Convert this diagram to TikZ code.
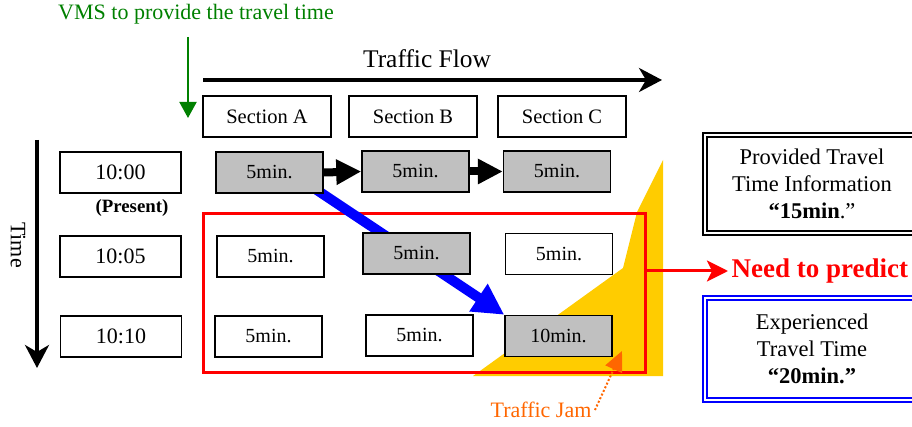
\documentclass[tikz,border=0pt]{standalone}
\usepackage{fontspec}
\setmainfont{Liberation Serif}
\usetikzlibrary{arrows.meta,calc,backgrounds}

\definecolor{vmsgreen}{RGB}{0,128,0}
\definecolor{jamyellow}{RGB}{255,204,0}
\definecolor{jamorange}{RGB}{255,102,0}
\definecolor{cellgray}{RGB}{192,192,192}

\newcommand{\setsize}[2]{\fontsize{#1}{#2}\selectfont}

\begin{document}
\begin{tikzpicture}[x=1pt, y=-1pt,
    secbox/.style={draw, line width=1.5pt, fill=white, minimum width=128pt, minimum height=41pt, font=\setsize{20.5}{22}},
    timebox/.style={draw, line width=1.5pt, fill=white, minimum width=121pt, minimum height=41pt, font=\setsize{22}{24}},
    cell/.style={draw, line width=1.5pt, fill=white, minimum width=107pt, minimum height=41pt, font=\setsize{20}{22}},
    jamcell/.style={cell, fill=cellgray},
    infobox/.style={line width=2.6pt, fill=white, minimum width=218pt, align=center, font=\setsize{22.5}{27}},
    innerline/.style={line width=1.6pt},
    bigarrow/.style={line width=3.5pt, -{Stealth[length=23pt,width=24pt,inset=7pt]}},
    steparrow/.style={line width=8pt, -{Triangle[length=25pt,width=24pt]}},
    shiftarrow/.style={blue, line width=10pt, -{Triangle[length=31pt,width=31pt]}},
    predarrow/.style={red, line width=3pt, -{Stealth[length=21pt,width=21pt,inset=5pt]}}]

    \clip (0,0) rectangle (912,427);

    % labels on top
    \node [vmsgreen, font=\setsize{22}{24}] (vms) at (196,14) {VMS to provide the travel time};
    \coordinate (vmstop) at (188,37);
    \coordinate (vmsend) at (188,118);
    \draw [vmsgreen, line width=2pt, -{Triangle[length=16pt,width=17pt]}] (vmstop) -- (vmsend);

    \node [font=\setsize{25.4}{27}] (flow) at (427,59) {Traffic Flow};
    \coordinate (flowstart) at (203,80);
    \coordinate (flowend) at (662,80);
    \draw [bigarrow] (flowstart) -- (flowend);

    \node [rotate=-90, font=\setsize{22}{24}] (time) at (18,245) {Time};
    \coordinate (timestart) at (37,140);
    \coordinate (timeend) at (37,368);
    \draw [bigarrow] (timestart) -- (timeend);

    % sections
    \node [secbox] (secA) at (267,116.5) {Section A};
    \node [secbox] (secB) at (413,116.5) {Section B};
    \node [secbox] (secC) at (562,116.5) {Section C};

    % times
    \node [timebox] (t1) at (120.5,172.5) {10:00};
    \node [timebox] (t2) at (120.5,256.5) {10:05};
    \node [timebox] (t3) at (121,336.5) {10:10};
    \node [font=\bfseries\setsize{18.8}{20}] (present) at (132,208) {(Present)};

    % travel times per section
    \node [jamcell] (a1) at (269.5,172.5) {5min.};
    \node [jamcell] (b1) at (415.5,171.5) {5min.};
    \node [jamcell] (c1) at (557,171.5) {5min.};

    \node [cell] (a2) at (270.5,256.5) {5min.};
    \node [jamcell] (b2) at (416.5,253.5) {5min.};
    \node [cell] (c2) at (559,254) {5min.};

    \node [cell] (a3) at (268.5,336.5) {5min.};
    \node [cell] (b3) at (419.5,335.5) {5min.};
    \node [jamcell] (c3) at (558.5,336) {10min.};

    \draw [steparrow] (a1.east) -- (b1.west);
    \draw [steparrow] (b1.east) -- (c1.west);

    \begin{pgfonlayer}{background}
        \fill [jamyellow] (663,160) -- (637,212) -- (623,268) -- (473,376) -- (663,376) -- cycle;
        \node [draw=red, line width=3pt, minimum width=442pt, minimum height=158pt] (window) at (424,293) {};
        \draw [shiftarrow] ($(a1.center)+(30,6)$) -- (c3.north west);
    \end{pgfonlayer}

    % prediction
    \node [anchor=west, red, font=\bfseries\setsize{27}{29}] (need) at (728,271) {Need to predict};
    \draw [predarrow] (window.east |- need.west) -- (need.west);

    \node [jamorange, font=\setsize{22}{24}] (jam) at (541,410) {Traffic Jam};
    \coordinate (jamtip) at (622,351);
    \draw [jamorange, line width=2pt, dotted, -{Triangle[length=20pt,width=18pt]}] (jam.east) -- (jamtip);

    % travel time boxes
    \node [infobox, draw=black, minimum height=102pt] (provided) at (812,184)
        {Provided Travel\\Time Information\\\textbf{“15min}.”};
    \draw [innerline] ($(provided.north west)+(5.5,5.5)$) rectangle ($(provided.south east)+(-5.5,-5.5)$);
    \node [infobox, draw=blue, minimum height=106pt] (experienced) at (812,349)
        {Experienced\\Travel Time\\\textbf{“20min.”}};
    \draw [innerline, blue] ($(experienced.north west)+(5.5,5.5)$) rectangle ($(experienced.south east)+(-5.5,-5.5)$);
\end{tikzpicture}
\end{document}
